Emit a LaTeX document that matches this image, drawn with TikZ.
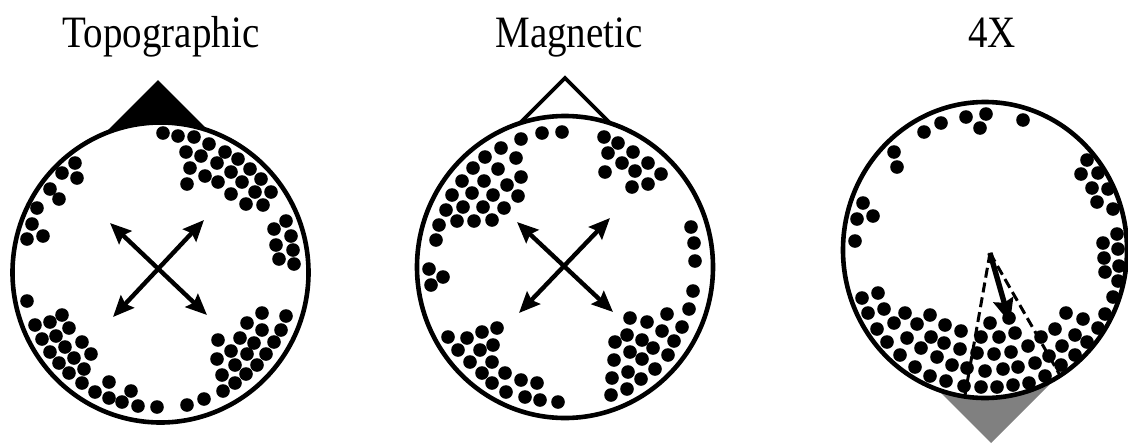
\documentclass[tikz,border=0pt]{standalone}
\usepackage{fontspec}
\setmainfont{Liberation Serif}
\usetikzlibrary{arrows.meta}
\definecolor{tipgray}{HTML}{808080}
\tikzset{
    head/.style={line width=4.6pt, fill=white},
    elec/.style={fill=black},
    dblarrow/.style={line width=4.4pt, {Stealth[length=21pt,width=18pt,inset=3pt]}-{Stealth[length=21pt,width=18pt,inset=3pt]}},
    guide/.style={line width=3pt, dash pattern=on 10pt off 5pt},
    title/.style={anchor=base, inner sep=0pt, font=\fontsize{39}{40}\selectfont},
}

\begin{document}
\begin{tikzpicture}[x=1pt, y=-1pt]
    \useasboundingbox (0,0) rectangle (1128,445);

    \node[title] (toplbl) at (161,47) {\scalebox{1}[1.15]{Topographic}};
    \node[title] (maglbl) at (569,47) {\scalebox{1}[1.15]{Magnetic}};
    \node[title] (fourlbl) at (992,47) {\scalebox{1}[1.15]{4X}};

    \coordinate (topo) at (160.5,272.5);
    \coordinate (magn) at (565,267);
    \coordinate (four) at (985,250);

    % nose markers
    \fill (158,80) -- (83,155) -- (233,155) -- cycle;
    \draw[line width=3.8pt, fill=white] (565,78) -- (490,153) -- (640,153) -- cycle;
    \fill[tipgray] (991,443) -- (916,368) -- (1066,368) -- cycle;

    \draw[head] (topo) ellipse [x radius=148pt, y radius=150pt];
    \draw[head] (magn) ellipse [x radius=148pt, y radius=151pt];
    \draw[head] (four) ellipse [x radius=142pt, y radius=148pt];

    % topographic
    \foreach \px/\py in {163/133, 178/136, 194/137, 209/144, 225/152, 238/159, 250/169, 261/179, 271/192,
        186/152, 201/156, 217/163, 231/172, 242/182, 255/192,
        190/168, 205/176, 218/182, 231/194, 246/204, 263/205, 187/184,
        286/221, 274/229, 291/236, 276/245, 293/250, 279/259, 294/264,
        75/163, 62/173, 77/178, 50/189, 59/199, 37/208, 32/224, 27/239, 43/236, 27/301,
        62/315, 50/322, 35/325, 69/328, 56/336, 42/339, 82/342, 65/347, 50/352, 91/354, 74/358, 59/363,
        84/369, 69/373, 109/382, 82/383, 95/392, 131/391, 109/398, 122/402, 138/406, 157/407, 187/405, 204/399,
        262/313, 286/316, 247/323, 262/330, 281/330, 218/340, 240/338, 254/343, 274/342, 231/351, 247/354,
        266/354, 217/359, 235/365, 257/365, 222/375, 246/374, 235/383, 223/391}
        \fill[elec] (\px,\py) circle (6.8pt);

    % magnetic
    \foreach \px/\py in {521/139, 542/133, 562/132, 501/148, 485/157, 473/168, 462/181, 452/195, 446/210, 439/225, 436/240,
        516/158, 498/169, 484/181, 472/193, 463/207, 457/221, 521/177, 507/185, 493/195, 483/207, 474/221,
        518/196, 504/208, 492/220, 429/269, 443/277, 431/285,
        604/137, 618/143, 608/153, 633/152, 622/163, 648/163, 605/172, 635/171, 661/174, 632/187, 648/184,
        691/227, 694/243, 695/261, 693/291, 689/309,
        448/337, 467/338, 482/332, 497/328, 458/350, 480/350, 493/345, 470/362, 492/362, 482/373, 505/373,
        492/383, 521/380, 537/383, 506/392, 525/397, 540/400, 558/402,
        630/318, 647/322, 667/314, 615/342, 627/335, 642/340, 662/331, 682/327, 630/352, 653/348, 674/341,
        614/360, 642/359, 668/355, 628/372, 655/369, 612/378, 641/379, 627/389, 611/395}
        \fill[elec] (\px,\py) circle (6.8pt);

    % 4X
    \foreach \px/\py in {966/117, 986/114, 980/128, 1023/120, 941/123, 924/132, 894/152, 897/167, 863/203, 857/219, 873/216, 855/241,
        1087/160, 1081/174, 1098/173, 1092/188, 1108/189, 1097/202, 1113/209, 1117/234, 1103/243, 1118/249, 1104/258,
        1119/266, 1105/272, 1118/281, 1113/297, 1105/314, 1098/328, 1087/342, 1075/355, 1061/365, 1045/376,
        1066/313, 1083/319, 1055/329, 1075/335, 1062/346, 1041/337, 1049/356, 1035/363, 1028/346, 1015/333,
        1011/352, 1018/367, 1029/383, 1013/385, 997/387, 981/387, 964/386, 1003/369, 985/371, 967/368,
        994/354, 977/353, 999/337, 981/337, 990/323, 1009/318, 961/331, 960/349, 952/365, 946/381,
        945/325, 930/315, 944/343, 931/337, 937/357, 930/376, 915/367, 921/348, 907/338, 917/324,
        905/313, 894/323, 900/355, 887/342, 877/329, 884/309, 868/313, 862/298, 878/293}
        \fill[elec] (\px,\py) circle (6.8pt);

    \coordinate (ta1) at (110,223);
    \coordinate (ta2) at (207,315);
    \coordinate (ta3) at (204,220);
    \coordinate (ta4) at (113,317);
    \draw[dblarrow] (ta1) -- (ta2);
    \draw[dblarrow] (ta3) -- (ta4);

    \coordinate (ma1) at (517,222);
    \coordinate (ma2) at (613,312);
    \coordinate (ma3) at (610,218);
    \coordinate (ma4) at (519,313);
    \draw[dblarrow] (ma1) -- (ma2);
    \draw[dblarrow] (ma3) -- (ma4);

    \coordinate (src) at (990,253);
    \coordinate (dashl) at (965,395);
    \coordinate (dashr) at (1061,377);
    \coordinate (aim) at (1010,323);
    \draw[guide] (src) -- (dashl);
    \draw[guide] (src) -- (dashr);
    \draw[line width=5.4pt, -{Stealth[length=24pt,width=20pt,inset=3pt]}] (src) -- (aim);
\end{tikzpicture}
\end{document}
